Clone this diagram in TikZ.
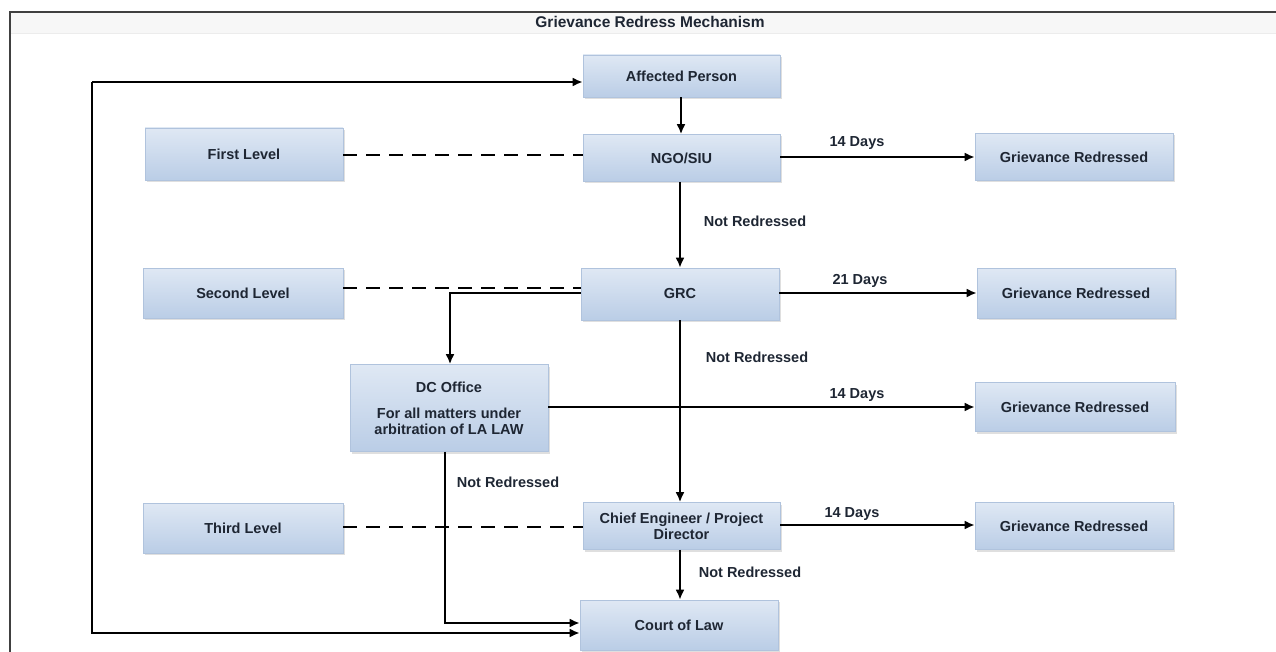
\documentclass[tikz,border=0pt]{standalone}
\usepackage{fontspec}
\setmainfont{Liberation Sans}
\usetikzlibrary{arrows.meta,shadows}
\definecolor{boxtop}{HTML}{DFE8F4}
\definecolor{boxbot}{HTML}{BACDE6}
\definecolor{boxedge}{HTML}{B0C3DD}
\definecolor{txt}{HTML}{1E2633}
\tikzset{
  box/.style={rectangle, top color=boxtop, bottom color=boxbot, draw=boxedge, line width=0.6pt,
    drop shadow={shadow xshift=1.5pt, shadow yshift=-2pt, opacity=0.25},
    text=txt, font=\fontsize{14.5}{16}\selectfont\bfseries, align=center, inner sep=2pt},
  conn/.style={line width=2.8pt, black, -{Latex[length=10pt,width=9pt]}},
  dashconn/.style={line width=2.8pt, black, dash pattern=on 14pt off 9pt},
  lbl/.style={text=txt, font=\fontsize{14.5}{16}\selectfont\bfseries, inner sep=1pt},
}
\begin{document}
\begin{tikzpicture}[x=1pt,y=-1pt]
\useasboundingbox (0,0) rectangle (1276,652);
% frame and title band
\fill[gray!6] (10,12) rectangle (1276,33);
\draw[gray!15, line width=0.6pt] (10,33) -- (1276,33);
\draw[black!75, line width=1.4pt] (1276,12) -- (10,12) -- (10,652);
\node[font=\fontsize{15.5}{17}\selectfont\bfseries, text=txt] (title) at (650,22) {Grievance Redress Mechanism};
% boxes
\node[box, minimum width=197pt, minimum height=42pt] (ap) at (681.5,76) {Affected Person};
\node[box, minimum width=197pt, minimum height=47pt] (ngo) at (681.5,158) {NGO/SIU};
\node[box, minimum width=198pt, minimum height=52pt] (fl) at (244,154) {First Level};
\node[box, minimum width=198pt, minimum height=47pt] (gr1) at (1074,157) {Grievance Redressed};
\node[box, minimum width=198pt, minimum height=52pt] (grc) at (680,294) {GRC};
\node[box, minimum width=200pt, minimum height=50pt] (sl) at (243,293) {Second Level};
\node[box, minimum width=198pt, minimum height=50pt] (gr2) at (1076,293) {Grievance Redressed};
\node[box, minimum width=198pt, minimum height=87pt] (dc) at (449,408) {DC Office\\[10pt]For all matters under\\arbitration of LA LAW};
\node[box, minimum width=200pt, minimum height=49pt] (gr3) at (1075,407) {Grievance Redressed};
\node[box, minimum width=200pt, minimum height=50pt] (tl) at (243,528) {Third Level};
\node[box, minimum width=197pt, minimum height=47pt] (ce) at (681.5,526) {Chief Engineer / Project\\Director};
\node[box, minimum width=198pt, minimum height=47pt] (gr4) at (1074,526) {Grievance Redressed};
\node[box, minimum width=198pt, minimum height=50pt] (court) at (679,625) {Court of Law};
% helper coordinates
\coordinate (grcturn) at (450,293);
\coordinate (dcdown) at (445,623);
\coordinate (loopbot) at (92,633);
\coordinate (looptop) at (92,82);
% vertical flow
\draw[conn] (ap.south -| 681,0) -- (ngo.north -| 681,0);
\draw[conn] (ngo.south -| 680,0) -- (grc.north -| 680,0);
\draw[conn] (grc.south -| 680,0) -- (ce.north -| 680,0);
\draw[conn] (ce.south -| 680,0) -- (court.north -| 680,0);
% horizontal to grievance redressed
\draw[conn] (ngo.east |- 0,157) -- (gr1.west |- 0,157);
\draw[conn] (grc.east |- 0,293) -- (gr2.west |- 0,293);
\draw[conn] (dc.east |- 0,407) -- (gr3.west |- 0,407);
\draw[conn] (ce.east |- 0,525) -- (gr4.west |- 0,525);
% dashed level lines
\draw[dashconn] (fl.east |- 0,155) -- (ngo.west |- 0,155);
\draw[dashconn] (sl.east |- 0,288) -- (grc.west |- 0,288);
\draw[dashconn] (tl.east |- 0,527) -- (ce.west |- 0,527);
% GRC to DC office
\draw[conn] (grc.west |- grcturn) -- (grcturn) -- (dc.north -| grcturn);
% DC office to court
\draw[conn] (dc.south -| dcdown) -- (dcdown) -- (court.west |- dcdown);
% loop from court back to affected person
\draw[conn] (looptop) -- (ap.west |- looptop);
\draw[conn] (looptop) -- (loopbot) -- (court.west |- loopbot);
% labels
\node[lbl] (d1) at (857,143) {14 Days};
\node[lbl] (d2) at (860,281) {21 Days};
\node[lbl] (d3) at (857,395) {14 Days};
\node[lbl] (d4) at (852,514) {14 Days};
\node[lbl] (n1) at (755,221) {Not Redressed};
\node[lbl] (n2) at (757,357) {Not Redressed};
\node[lbl] (n3) at (508,482) {Not Redressed};
\node[lbl] (n4) at (750,572) {Not Redressed};
\end{tikzpicture}
\end{document}
